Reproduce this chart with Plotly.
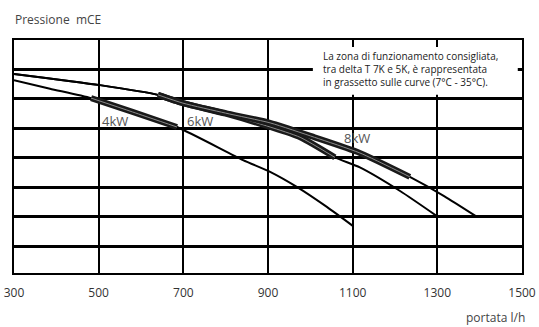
import plotly.graph_objects as go

# ---- data ----
x_ticks = [300, 500, 700, 900, 1100, 1300, 1500]

flow_4kw = [300, 385, 482, 580, 685, 841, 905, 968, 1039, 1101]
head_4kw = [6.64, 6.35, 6.03, 5.56, 5.05, 3.93, 3.53, 3.02, 2.34, 1.69]
bold_flow_4kw = [482, 580, 685]
bold_head_4kw = [6.03, 5.56, 5.05]

flow_6kw = [300, 503, 640, 699, 800, 905, 976, 1058, 1117, 1212, 1299]
head_6kw = [6.85, 6.47, 6.14, 5.86, 5.50, 5.05, 4.70, 4.02, 3.68, 2.88, 2.03]
bold_flow_6kw = [640, 699, 800, 905, 976, 1058]
bold_head_6kw = [6.14, 5.86, 5.50, 5.05, 4.70, 4.02]

flow_8kw = [300, 503, 640, 699, 800, 905, 1010, 1117, 1235, 1316, 1391]
head_8kw = [6.85, 6.47, 6.14, 5.86, 5.52, 5.19, 4.70, 4.17, 3.36, 2.71, 2.03]
bold_flow_8kw = [640, 699, 800, 905, 1010, 1117, 1235]
bold_head_8kw = [6.14, 5.86, 5.52, 5.19, 4.70, 4.17, 3.36]

labels = ["4kW", "6kW", "8kW"]
label_x = [539, 739, 1110]
label_y = [5.25, 5.25, 4.68]

FONT = "Open Sans"

fig = go.Figure()

def curve(x, y):
    fig.add_trace(go.Scatter(x=x, y=y, mode="lines",
                             line=dict(color="black", width=2, shape="spline", smoothing=0.6),
                             hoverinfo="skip", showlegend=False))

def bold(x, y):
    fig.add_trace(go.Scatter(x=x, y=y, mode="lines",
                             line=dict(color="#1a1a1a", width=6, shape="spline", smoothing=0.6),
                             hoverinfo="skip", showlegend=False))
    fig.add_trace(go.Scatter(x=x, y=y, mode="lines",
                             line=dict(color="#8a8a8a", width=1, shape="spline", smoothing=0.6),
                             hoverinfo="skip", showlegend=False))

for fx, fy in [(flow_4kw, head_4kw), (flow_6kw, head_6kw), (flow_8kw, head_8kw)]:
    curve(fx, fy)
for fx, fy in [(bold_flow_4kw, bold_head_4kw), (bold_flow_6kw, bold_head_6kw),
               (bold_flow_8kw, bold_head_8kw)]:
    bold(fx, fy)

for t, lx, ly in zip(labels, label_x, label_y):
    fig.add_annotation(x=lx, y=ly, text=t, showarrow=False,
                       font=dict(family=FONT, size=13, color="#555555"),
                       xanchor="center", yanchor="middle")

# white note box covering grid
fig.add_shape(type="rect", x0=1006, x1=1490, y0=6.14, y1=7.76,
              fillcolor="white", line=dict(width=0), layer="above")
fig.add_annotation(x=1026, y=7.0, xanchor="left", yanchor="middle", align="left",
                   showarrow=False,
                   text="La zona di funzionamento consigliata,<br>tra delta T 7K e 5K, è rappresentata<br>in grassetto sulle curve (7°C - 35°C).",
                   font=dict(family=FONT, size=10, color="#222222"))

fig.add_annotation(xref="paper", yref="paper", x=-0.002, y=1.09, xanchor="left", yanchor="middle",
                   showarrow=False, text="Pressione\u00a0\u00a0mCE",
                   font=dict(family=FONT, size=12, color="#444444"))
fig.add_annotation(xref="paper", yref="paper", x=1.01, y=-0.189, xanchor="right", yanchor="middle",
                   showarrow=False, text="portata l/h",
                   font=dict(family=FONT, size=12, color="#444444"))

fig.update_layout(
    template="none",
    width=539, height=327, autosize=False,
    margin=dict(l=14, r=17, t=40, b=54, pad=0),
    paper_bgcolor="white", plot_bgcolor="white",
    showlegend=False,
    xaxis=dict(range=[300, 1500], tickvals=x_ticks, ticktext=[str(v) for v in x_ticks],
               showgrid=True, gridcolor="black", gridwidth=2, automargin=False,
               showline=True, linecolor="black", linewidth=2, mirror=True,
               ticks="outside", ticklen=8, tickcolor="rgba(0,0,0,0)",
               tickfont=dict(family=FONT, size=12, color="#333333"), zeroline=False,
               fixedrange=True),
    yaxis=dict(range=[0.1, 8], tick0=0, dtick=1, automargin=False,
               showgrid=True, gridcolor="black", gridwidth=3,
               showline=True, linecolor="black", linewidth=2, mirror=True,
               showticklabels=False, ticks="", zeroline=False, fixedrange=True),
)

fig.write_html("out.html", config={"responsive": False, "displayModeBar": False},
               post_script="document.body.style.margin='0';document.body.style.overflow='hidden';")
